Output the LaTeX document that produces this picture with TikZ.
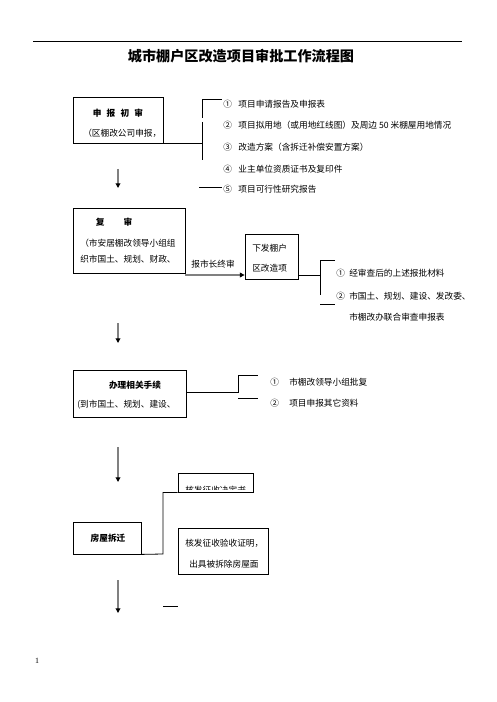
\documentclass[tikz,border=0pt]{standalone}
\usepackage{fontspec}
\setmainfont{Noto Sans CJK SC}
\newfontfamily\pagefont{Liberation Serif}
\usetikzlibrary{arrows.meta,positioning,fit}

\begin{document}
\begin{tikzpicture}[
  x=0.75pt, y=-0.75pt,
  box/.style={draw,line width=0.6pt,inner sep=0pt},
  conn/.style={line width=0.6pt},
  down/.style={draw=black!50,line width=1.3pt,-{Triangle[black,length=3.5pt,width=3.5pt]}},
  txt/.style={font=\fontsize{6.5pt}{8pt}\selectfont,inner sep=0pt,anchor=west},
  hd/.style={font=\fontsize{6.5pt}{8pt}\selectfont\bfseries,inner sep=0pt}
]
\useasboundingbox (0,0) rectangle (496,702);

% Header
\draw[line width=0.7pt] (33,41) -- (462,41);
\node[font=\fontsize{10.6pt}{12pt}\selectfont\bfseries,inner sep=0pt] (title) at (241,56) {城市棚户区改造项目审批工作流程图};

% Step 1
\node[box,fit={(73,97) (163,143)}] (b1) {};
\node[hd] (b1h) at (118,113) {申\hspace{0.6em}报\hspace{0.6em}初\hspace{0.6em}审};
\node[txt] (b1t) at (83,133) {（区棚改公司申报，};

\coordinate (k1a) at (202,99);
\coordinate (k1b) at (202,118);
\coordinate (k1c) at (202,122);
\coordinate (k1d) at (202,160);
\draw[conn] (b1.south east) -- (b1.south east -| k1a);
\draw[conn] (k1b) -- (k1a) -- (222,99);
\draw[conn] (k1c) -- (k1d);
\draw[conn] (199,187) -- (222,187);

\node[txt] (i1) at (223,104) {①\hspace{0.75em}项目申请报告及申报表};
\node[txt] (i2) at (223,125) {②\hspace{0.75em}项目拟用地（或用地红线图）及周边 50 米棚屋用地情况};
\node[txt] (i3) at (223,147) {③\hspace{0.75em}改造方案（含拆迁补偿安置方案）};
\node[txt] (i4) at (223,169) {④\hspace{0.75em}业主单位资质证书及复印件};
\node[txt] (i5) at (223,189) {⑤\hspace{0.75em}项目可行性研究报告};

\draw[down] (118,169) -- (118,188);

% Step 2
\node[box,fit={(73,208) (185,273)}] (b2) {};
\node[hd] (b2h) at (114,222) {复\hspace{2.2em}审};
\node[txt] (b2t) at (80,243) {（市安居棚改领导小组组};
\node[txt] (b2u) at (80,259) {织市国土、规划、财政、};

\node[box,fit={(245,234) (298,279)}] (b3) {};
\node[txt] (b3t) at (252,248) {下发棚户};
\node[txt] (b3u) at (252,268) {区改造项};

\coordinate (r2) at (185,275);
\draw[down] (r2) -- (r2 -| b3.west);
\node[txt,anchor=center] (lab) at (213,264) {报市长终审};

\coordinate (k2a) at (320,260);
\coordinate (k2b) at (320,295);
\draw[conn] (298,275) -- (320,275);
\draw[conn] (335,260) -- (k2a) -- (k2b);
\draw[conn] (320,304) -- (335,304);

\node[txt] (j1) at (336,273) {①\hspace{0.5em}经审查后的上述报批材料};
\node[txt] (j2) at (336,296) {②\hspace{0.5em}市国土、规划、建设、发改委、};
\node[txt] (j3) at (349,317) {市棚改办联合审查申报表};

\draw[down] (118,323) -- (118,343);

% Step 3
\node[box,fit={(73,370) (186,417)}] (b4) {};
\node[hd] (b4h) at (135,385) {办理相关手续};
\node[txt] (b4t) at (77,405) {(到市国土、规划、建设、};

\coordinate (k3a) at (238,375);
\coordinate (k3b) at (238,392);
\draw[conn] (b4.east |- k3b) -- (k3b) -- (k3a) -- (258,375);
\draw[conn] (238,398) -- (258,398);

\node[txt] (m1) at (270,382) {①\hspace{1.2em}市棚改领导小组批复};
\node[txt] (m2) at (270,403) {②\hspace{1.2em}项目申报其它资料};

\draw[down] (118,447) -- (118,482);

% Step 4
\node[box,fit={(73,522) (141,554)}] (b5) {};
\node[hd] (b5h) at (108,538) {房屋拆迁};

\node[box,fit={(178,473) (253,492)}] (b6) {};
\begin{scope}
  \clip (178,473) rectangle (253,489);
  \node[txt] (b6t) at (185,490) {核发征收决定书};
\end{scope}

\node[box,fit={(178,528) (268,574)}] (b7) {};
\node[txt] (b7t) at (185,543) {核发征收验收证明，};
\node[txt] (b7u) at (189,564) {出具被拆除房屋面};

\coordinate (k4) at (163,554);
\draw[conn] (b5.south east) -- (k4) -- (k4 |- b6.south) -- (b6.south west);

\draw[down] (118,580) -- (118,613);
\draw[conn] (163,606) -- (178,606);

% Page number
\node[font=\pagefont\fontsize{6pt}{7pt}\selectfont,inner sep=0pt] (pg) at (37,661) {1};
\end{tikzpicture}
\end{document}
